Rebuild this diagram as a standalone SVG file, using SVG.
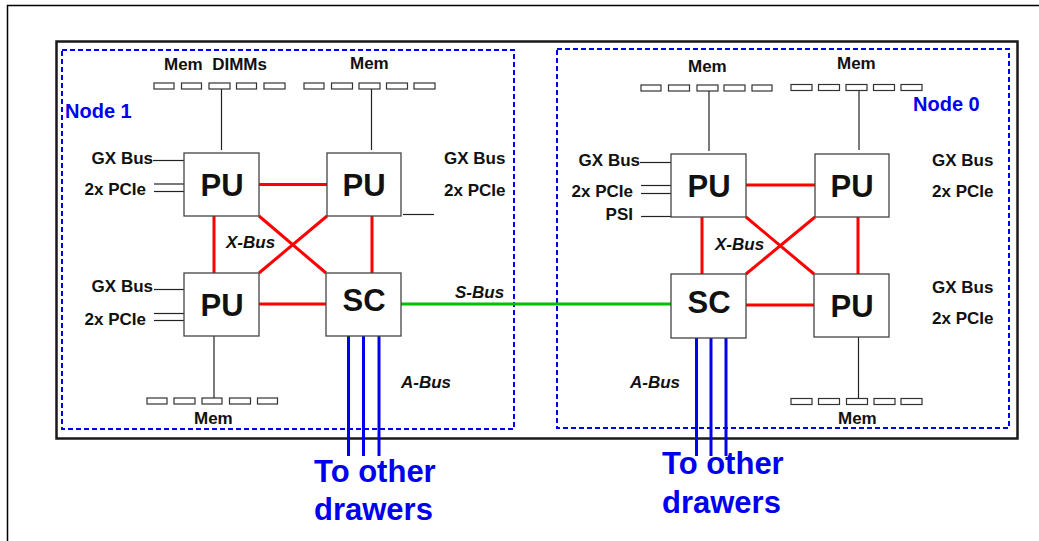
<svg xmlns="http://www.w3.org/2000/svg" width="1039" height="541" viewBox="0 0 1039 541">
<style>
.lbl{font-family:"Liberation Sans",Arial,sans-serif;font-weight:bold;font-size:17px;fill:#111;white-space:pre}
.big{font-family:"Liberation Sans",Arial,sans-serif;font-weight:bold;font-size:31px;fill:#111;text-anchor:middle}
.bus{font-family:"Liberation Sans",Arial,sans-serif;font-weight:bold;font-style:italic;font-size:17px;fill:#111}
.node{font-family:"Liberation Sans",Arial,sans-serif;font-weight:bold;font-size:20px;fill:#0000ee}
.draw{font-family:"Liberation Sans",Arial,sans-serif;font-weight:bold;font-size:31px;fill:#0000ee}
.box{fill:#fff;stroke:#444;stroke-width:1.3}
.dimm{fill:#fff;stroke:#333;stroke-width:1.2}
.thin{stroke:#222;stroke-width:1.2;fill:none}
.red{stroke:#ff0000;stroke-width:3;fill:none}
.blue{stroke:#0000ee;stroke-width:3;fill:none}
.green{stroke:#00c000;stroke-width:3;fill:none}
.dash{fill:none;stroke:#0000ee;stroke-width:2;stroke-dasharray:5 3}
</style>
<rect x="0" y="0" width="1039" height="541" fill="#fff"/>
<rect x="7.5" y="5.5" width="1040" height="545" fill="none" stroke="#000" stroke-width="1.5"/>
<rect x="56.5" y="41.5" width="961" height="397" fill="none" stroke="#1a1a1a" stroke-width="2.5"/>
<g id="node1">
<rect class="dash" x="62" y="50" width="452" height="379"/>
<text class="node" x="65" y="118">Node 1</text>
</g>
<g id="node0">
<rect class="dash" x="557" y="49" width="452" height="379"/>
<text class="node" x="913" y="111">Node 0</text>
</g>
<g id="connectors">
<line class="red" x1="259" y1="184.5" x2="327" y2="184.5"/>
<line class="red" x1="214" y1="216" x2="214" y2="273"/>
<line class="red" x1="372" y1="216" x2="372" y2="273"/>
<line class="red" x1="259" y1="304" x2="326" y2="304"/>
<line class="red" x1="259" y1="216" x2="326" y2="273"/>
<line class="red" x1="327" y1="216" x2="259" y2="273"/>
<line class="red" x1="746" y1="185" x2="815" y2="185"/>
<line class="red" x1="702" y1="217" x2="702" y2="274"/>
<line class="red" x1="858" y1="217" x2="858" y2="274"/>
<line class="red" x1="746" y1="305" x2="814" y2="305"/>
<line class="red" x1="746" y1="217" x2="814" y2="274"/>
<line class="red" x1="815" y1="217" x2="746" y2="274"/>
<line class="green" x1="401" y1="304" x2="671" y2="304"/>
<line class="blue" x1="348.5" y1="336" x2="348.5" y2="456"/>
<line class="blue" x1="363.5" y1="336" x2="363.5" y2="456"/>
<line class="blue" x1="379" y1="336" x2="379" y2="456"/>
<line class="blue" x1="696.5" y1="338" x2="696.5" y2="456"/>
<line class="blue" x1="711" y1="338" x2="711" y2="456"/>
<line class="blue" x1="726" y1="338" x2="726" y2="456"/>
<line class="thin" x1="221.5" y1="89" x2="221.5" y2="150"/>
<line class="thin" x1="371.5" y1="89" x2="371.5" y2="150"/>
<line class="thin" x1="214" y1="336" x2="214" y2="398"/>
<line class="thin" x1="709" y1="91" x2="709" y2="151"/>
<line class="thin" x1="859" y1="91" x2="859" y2="150"/>
<line class="thin" x1="858.5" y1="337" x2="858.5" y2="398"/>
<line class="thin" x1="153" y1="160.5" x2="184" y2="160.5"/>
<line class="thin" x1="154" y1="184" x2="184" y2="184"/>
<line class="thin" x1="154" y1="191.5" x2="184" y2="191.5"/>
<line class="thin" x1="154" y1="289.5" x2="184" y2="289.5"/>
<line class="thin" x1="154" y1="313.5" x2="184" y2="313.5"/>
<line class="thin" x1="154" y1="320.5" x2="184" y2="320.5"/>
<line class="thin" x1="403" y1="214.5" x2="434" y2="214.5"/>
<line class="thin" x1="640" y1="162.5" x2="671" y2="162.5"/>
<line class="thin" x1="641" y1="185.5" x2="671" y2="185.5"/>
<line class="thin" x1="641" y1="193.5" x2="671" y2="193.5"/>
<line class="thin" x1="641" y1="216.5" x2="671" y2="216.5"/>
</g>
<g id="dimms">
<rect class="dimm" x="154" y="83" width="20" height="6"/>
<rect class="dimm" x="181.5" y="83" width="20" height="6"/>
<rect class="dimm" x="209" y="83" width="21" height="6"/>
<rect class="dimm" x="236.5" y="83" width="20" height="6"/>
<rect class="dimm" x="264" y="83" width="21" height="6"/>
<rect class="dimm" x="304" y="83" width="20" height="6"/>
<rect class="dimm" x="331.5" y="83" width="21" height="6"/>
<rect class="dimm" x="359" y="83" width="21" height="6"/>
<rect class="dimm" x="386.5" y="83" width="21" height="6"/>
<rect class="dimm" x="414" y="83" width="21" height="6"/>
<rect class="dimm" x="147" y="398" width="20" height="6"/>
<rect class="dimm" x="174" y="398" width="21" height="6"/>
<rect class="dimm" x="202" y="398" width="20" height="6"/>
<rect class="dimm" x="229.5" y="398" width="21" height="6"/>
<rect class="dimm" x="257.5" y="398" width="20" height="6"/>
<rect class="dimm" x="641" y="85" width="20" height="6"/>
<rect class="dimm" x="668.5" y="85" width="21" height="6"/>
<rect class="dimm" x="697" y="85" width="21" height="6"/>
<rect class="dimm" x="724" y="85" width="21" height="6"/>
<rect class="dimm" x="752" y="85" width="20" height="6"/>
<rect class="dimm" x="791" y="84.5" width="21" height="6"/>
<rect class="dimm" x="818.5" y="84.5" width="21" height="6"/>
<rect class="dimm" x="846" y="84.5" width="21" height="6"/>
<rect class="dimm" x="873.5" y="84.5" width="21" height="6"/>
<rect class="dimm" x="901" y="84.5" width="21" height="6"/>
<rect class="dimm" x="791" y="398.5" width="21" height="6"/>
<rect class="dimm" x="818.5" y="398.5" width="21" height="6"/>
<rect class="dimm" x="846.5" y="398.5" width="21" height="6"/>
<rect class="dimm" x="874" y="398.5" width="21" height="6"/>
<rect class="dimm" x="901" y="398.5" width="21" height="6"/>
</g>
<g id="pu-n1-tl"><rect class="box" x="184" y="153" width="75" height="63"/><text class="big" x="222" y="196">PU</text></g>
<g id="pu-n1-tr"><rect class="box" x="327" y="153" width="74" height="63"/><text class="big" x="364" y="196">PU</text></g>
<g id="pu-n1-bl"><rect class="box" x="184" y="273" width="75" height="63"/><text class="big" x="222" y="316">PU</text></g>
<g id="sc-n1"><rect class="box" x="326" y="273" width="75" height="63"/><text class="big" x="364" y="311">SC</text></g>
<g id="pu-n0-tl"><rect class="box" x="671" y="154" width="75" height="63"/><text class="big" x="709" y="197">PU</text></g>
<g id="pu-n0-tr"><rect class="box" x="815" y="154" width="74" height="63"/><text class="big" x="852" y="197">PU</text></g>
<g id="sc-n0"><rect class="box" x="671" y="274" width="75" height="64"/><text class="big" x="709" y="313">SC</text></g>
<g id="pu-n0-br"><rect class="box" x="814" y="274" width="75" height="63"/><text class="big" x="852" y="317">PU</text></g>
<g id="labels">
<text class="lbl" x="164" y="70" xml:space="preserve">Mem  DIMMs</text>
<text class="lbl" x="350" y="69">Mem</text>
<text class="lbl" x="194" y="424">Mem</text>
<text class="lbl" x="688" y="72">Mem</text>
<text class="lbl" x="837" y="69">Mem</text>
<text class="lbl" x="838" y="424">Mem</text>
<text class="lbl" x="153" y="164" text-anchor="end">GX Bus</text>
<text class="lbl" x="146" y="195" text-anchor="end">2x PCIe</text>
<text class="lbl" x="153" y="292" text-anchor="end">GX Bus</text>
<text class="lbl" x="146" y="325" text-anchor="end">2x PCIe</text>
<text class="lbl" x="444" y="164">GX Bus</text>
<text class="lbl" x="444" y="196">2x PCIe</text>
<text class="lbl" x="640" y="166" text-anchor="end">GX Bus</text>
<text class="lbl" x="633" y="197" text-anchor="end">2x PCIe</text>
<text class="lbl" x="633" y="220" text-anchor="end">PSI</text>
<text class="lbl" x="932" y="166">GX Bus</text>
<text class="lbl" x="932" y="197">2x PCIe</text>
<text class="lbl" x="932" y="293">GX Bus</text>
<text class="lbl" x="932" y="324">2x PCIe</text>
<text class="bus" x="226" y="248">X-Bus</text>
<text class="bus" x="715" y="250">X-Bus</text>
<text class="bus" x="455" y="298" font-size="18">S-Bus</text>
<text class="bus" x="401" y="388">A-Bus</text>
<text class="bus" x="630" y="388">A-Bus</text>
<text class="draw" x="314" y="482">To other</text>
<text class="draw" x="314" y="520">drawers</text>
<text class="draw" x="662" y="474">To other</text>
<text class="draw" x="662" y="513">drawers</text>
</g>
</svg>
